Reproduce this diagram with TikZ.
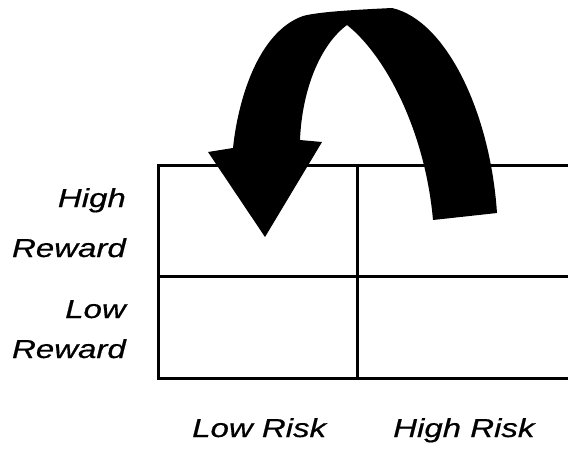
\documentclass[tikz,border=0pt]{standalone}
\usepackage{fontspec}
\setmainfont{Liberation Sans}
\newfontfamily\lblfont{Liberation Sans}[ItalicFeatures={FakeBold=0.5}]
\begin{document}
\begin{tikzpicture}[x=1pt,y=-1pt,
  gridline/.style={line width=3pt, line cap=rect},
  lbl/.style={inner sep=0pt, font=\lblfont\fontsize{26}{30}\selectfont\itshape}]
\useasboundingbox (0,0) rectangle (568,451);
\fill[white] (0,0) rectangle (568,451);
% grid
\draw[gridline] (568,165) -- (158,165) -- (158,378) -- (568,378);
\draw[gridline] (158,276) -- (568,276);
\draw[gridline] (357,165) -- (357,378);
% curved arrow
\fill[black] (497,213) .. controls (490,110) and (445,20) .. (392,8)
  .. controls (350,10) and (318,12) .. (303,16)
  .. controls (258,32) and (238,100) .. (233,148)
  -- (208,152) -- (265,237) -- (322,142) -- (300,140)
  .. controls (302,90) and (320,45) .. (347,25)
  .. controls (385,55) and (425,130) .. (433,220) -- cycle;
% labels
\node[lbl, anchor=base east] (hr1) at (126,207) {\scalebox{1.27}[1]{High}};
\node[lbl, anchor=base east] (hr2) at (126,257) {\scalebox{1.27}[1]{Reward}};
\node[lbl, anchor=base east] (lr1) at (126,318) {\scalebox{1.27}[1]{Low}};
\node[lbl, anchor=base east] (lr2) at (126,358) {\scalebox{1.27}[1]{Reward}};
\node[lbl, anchor=base west] (lrisk) at (192,437) {\scalebox{1.27}[1]{Low Risk}};
\node[lbl, anchor=base west] (hrisk) at (393,437) {\scalebox{1.27}[1]{High Risk}};
\end{tikzpicture}
\end{document}
